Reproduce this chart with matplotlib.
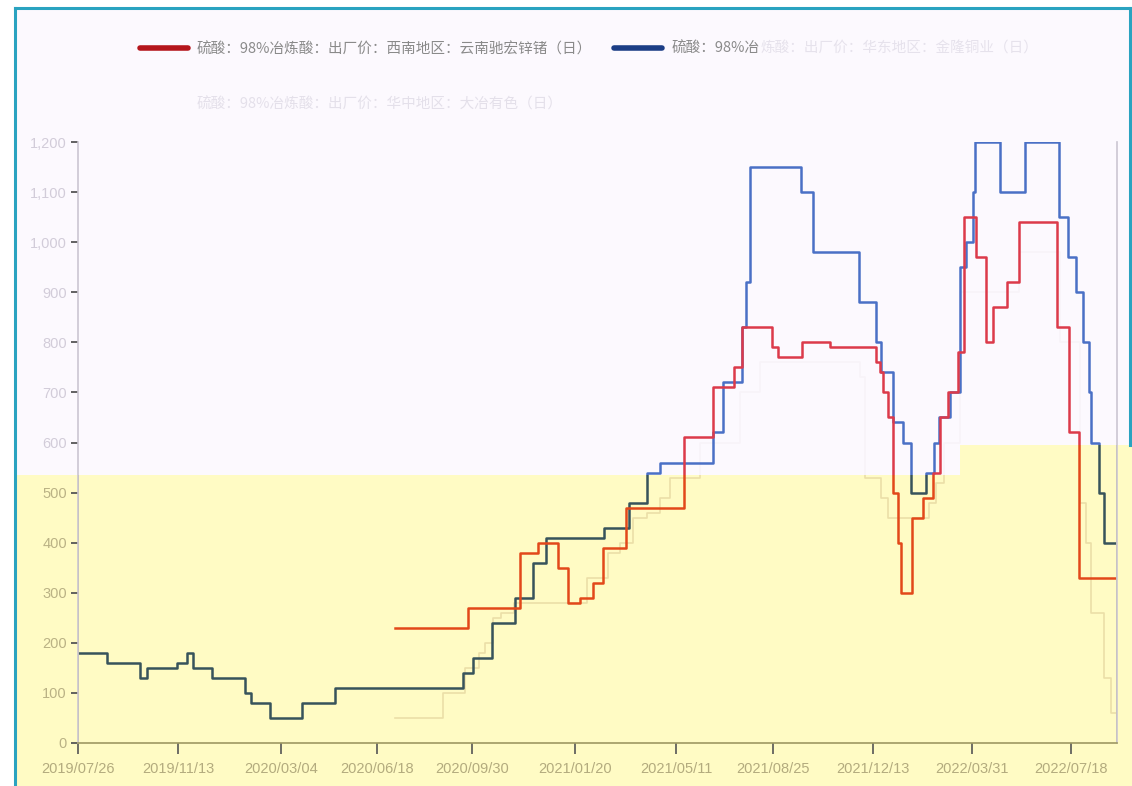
import numpy as np
import pandas as pd
import matplotlib
matplotlib.use("Agg")
import matplotlib.pyplot as plt
from matplotlib.patches import Polygon
from matplotlib.lines import Line2D
from matplotlib.ticker import FuncFormatter
import matplotlib.dates as mdates

plt.rcParams['font.family'] = ['Noto Sans CJK SC', 'DejaVu Sans']

W, H = 1132, 786

# 硫酸 98%冶炼酸 出厂价 (元/吨), step changes
yn_dates = ["2020-07-07", "2020-09-25", "2020-11-21", "2020-12-11", "2021-01-02",
            "2021-01-13", "2021-01-26", "2021-02-09", "2021-02-20", "2021-03-17",
            "2021-05-20", "2021-06-20", "2021-07-14", "2021-07-22", "2021-08-24",
            "2021-08-31", "2021-09-26", "2021-10-27", "2021-12-16", "2021-12-20",
            "2021-12-24", "2021-12-29", "2022-01-04", "2022-01-09", "2022-01-12",
            "2022-01-24", "2022-02-05", "2022-02-16", "2022-02-24", "2022-03-05",
            "2022-03-16", "2022-03-22", "2022-04-05", "2022-04-16", "2022-04-23",
            "2022-05-08", "2022-05-22", "2022-07-02", "2022-07-15", "2022-07-26"]
yn_vals = [230, 270, 380, 400, 350, 280, 290, 320, 390, 470,
           610, 710, 750, 830, 790, 770, 800, 790, 760, 740,
           700, 650, 500, 400, 300, 450, 490, 540, 650, 700,
           780, 1050, 970, 800, 870, 920, 1040, 830, 620, 330]

ah_dates = ["2019-07-26", "2019-08-27", "2019-10-02", "2019-10-10", "2019-11-11",
            "2019-11-22", "2019-11-29", "2019-12-20", "2020-01-25", "2020-02-01",
            "2020-02-21", "2020-03-27", "2020-05-02", "2020-09-20", "2020-10-01",
            "2020-10-21", "2020-11-16", "2020-12-05", "2020-12-20", "2021-02-21",
            "2021-03-20", "2021-04-09", "2021-04-23", "2021-06-20", "2021-07-01",
            "2021-07-22", "2021-07-27", "2021-07-31", "2021-09-25", "2021-10-08",
            "2021-11-27", "2021-12-16", "2021-12-21", "2022-01-04", "2022-01-15",
            "2022-01-23", "2022-02-09", "2022-02-18", "2022-02-23", "2022-03-07",
            "2022-03-18", "2022-03-25", "2022-04-01", "2022-04-04", "2022-05-01",
            "2022-05-28", "2022-07-04", "2022-07-14", "2022-07-23", "2022-07-31",
            "2022-08-06", "2022-08-08", "2022-08-17", "2022-08-23"]
ah_vals = [180, 160, 130, 150, 160, 180, 150, 130, 100, 80,
           50, 80, 110, 140, 170, 240, 290, 360, 410, 430,
           480, 540, 560, 620, 720, 830, 920, 1150, 1100, 980,
           880, 800, 740, 640, 600, 500, 540, 600, 650, 700,
           950, 1000, 1100, 1200, 1100, 1200, 1050, 970, 900, 800,
           700, 600, 500, 400]

hz_dates = ["2020-07-07", "2020-08-29", "2020-09-22", "2020-10-07", "2020-10-14",
            "2020-10-23", "2020-10-31", "2020-11-14", "2021-02-03", "2021-02-25",
            "2021-03-11", "2021-03-25", "2021-04-09", "2021-04-23", "2021-05-04",
            "2021-06-06", "2021-07-20", "2021-08-11", "2021-11-29", "2021-12-04",
            "2021-12-21", "2021-12-29", "2022-02-12", "2022-02-20", "2022-03-01",
            "2022-03-18", "2022-05-22", "2022-07-06", "2022-07-28", "2022-08-03",
            "2022-08-08", "2022-08-23", "2022-08-30"]
hz_vals = [50, 100, 150, 180, 200, 250, 260, 280, 330, 380,
           400, 450, 460, 490, 530, 600, 700, 760, 730, 530,
           490, 450, 480, 520, 600, 900, 980, 800, 480, 400,
           260, 130, 60]

end_date = "2022-09-05"
x_tick_dates = ["2019-07-26", "2019-11-13", "2020-03-04", "2020-06-18", "2020-09-30",
                "2021-01-20", "2021-05-11", "2021-08-25", "2021-12-13", "2022-03-31",
                "2022-07-18"]
y_ticks = list(range(0, 1201, 100))

names = ["硫酸：98%冶炼酸：出厂价：西南地区：云南驰宏锌锗（日）",
         "硫酸：98%冶炼酸：出厂价：华东地区：金隆铜业（日）",
         "硫酸：98%冶炼酸：出厂价：华中地区：大冶有色（日）"]


def px(x, y):
    return (x / W, 1 - y / H)


fig = plt.figure(figsize=(W / 100, H / 100), dpi=100, facecolor='white')

# two-tone background
top_poly = Polygon([px(16, 8), px(1130, 8), px(1130, 445), px(960, 445),
                    px(960, 475), px(16, 475)], closed=True,
                   transform=fig.transFigure, facecolor='#fcf9fe', edgecolor='none', zorder=-10)
low_poly = Polygon([px(16, 475), px(960, 475), px(960, 445), px(1132, 445),
                    px(1132, 786), px(16, 786)], closed=True,
                   transform=fig.transFigure, facecolor='#fffbc4', edgecolor='none', zorder=-10)
fig.patches.extend([top_poly, low_poly])
for (x0, y0), (x1, y1) in [[(15, 8), (15, 786)], [(15, 8), (1130, 8)], [(1130, 8), (1130, 445)]]:
    fig.lines.append(Line2D([x0 / W, x1 / W], [1 - y0 / H, 1 - y1 / H],
                            transform=fig.transFigure, color='#2aa3c0', lw=2.2))

ax = fig.add_axes([78 / W, 1 - 743 / H, (1117 - 78) / W, (743 - 142) / H])
ax.set_facecolor('none')

end = pd.Timestamp(end_date)


def draw(dates, vals, c_top, c_low, lw=1.6):
    d = list(pd.to_datetime(dates)) + [end]
    v = list(vals) + [vals[-1]]
    l1, = ax.step(d, v, where='post', color=c_top, lw=lw)
    l1.set_clip_path(top_poly)
    l2, = ax.step(d, v, where='post', color=c_low, lw=lw)
    l2.set_clip_path(low_poly)


draw(hz_dates, hz_vals, '#f8f3f9', '#ebdfa8', lw=1.2)
draw(ah_dates, ah_vals, '#4a70c6', '#37535b', lw=1.8)
draw(yn_dates, yn_vals, '#dc3a4a', '#e2481a', lw=1.8)

ax.set_xlim(pd.Timestamp("2019-07-26"), pd.Timestamp("2022-09-06"))
ax.set_ylim(0, 1200)
ax.set_xticks(pd.to_datetime(x_tick_dates))
ax.xaxis.set_major_formatter(mdates.DateFormatter("%Y/%m/%d"))
ax.set_yticks(y_ticks)
ax.yaxis.set_major_formatter(FuncFormatter(lambda v, _: f"{int(v):,}"))

ax.spines['top'].set_visible(False)
for s in ['left', 'right']:
    ax.spines[s].set_color('#cbc6d2')
    ax.spines[s].set_linewidth(1.2)
ax.spines['bottom'].set_color('#9e9862')
ax.spines['bottom'].set_linewidth(1.2)
# olive overlay of the side spines inside the yellow area
for xv in ax.get_xlim():
    ln = ax.axvline(xv, color='#a8a26a', lw=1.2)
    ln.set_clip_path(low_poly)

ax.tick_params(axis='y', direction='out', length=5, width=1.3, color='#555555', pad=3,
               labelsize=10.5)
ax.tick_params(axis='x', direction='out', length=8, width=1.2, color='#555555', pad=6,
               labelsize=10.5)
for lab in ax.get_xticklabels():
    lab.set_color('#b3ab7e')
    lab.set_family('Liberation Sans')
for lab, v in zip(ax.get_yticklabels(), y_ticks):
    lab.set_color('#d2ccd9' if v >= 600 else '#bab285')
    lab.set_family('Liberation Sans')

# legend drawn by hand
fig.lines.append(Line2D([140 / W, 188 / W], [1 - 48 / H] * 2, transform=fig.transFigure,
                        color='#b5161c', lw=4, solid_capstyle='round'))
fig.text(197 / W, 1 - 49 / H, names[0], fontsize=10.5, color='#8a8a8a', va='center')
fig.lines.append(Line2D([614 / W, 662 / W], [1 - 48 / H] * 2, transform=fig.transFigure,
                        color='#1c3e86', lw=4, solid_capstyle='round'))
head = "硫酸：98%冶"
t_head = fig.text(672 / W, 1 - 49 / H, head, fontsize=10.5, color='#8a8a8a', va='center')
r = fig.canvas.get_renderer()
bb = t_head.get_window_extent(renderer=r)
fig.text(bb.x1 / W + 0.5 / W, 1 - 49 / H, names[1][len(head):], fontsize=10.5,
         color='#e6e2ec', va='center')
fig.text(197 / W, 1 - 104 / H, names[2], fontsize=10.5, color='#e4e0ea', va='center')

fig.savefig("out.png", dpi=100, facecolor=fig.get_facecolor())
